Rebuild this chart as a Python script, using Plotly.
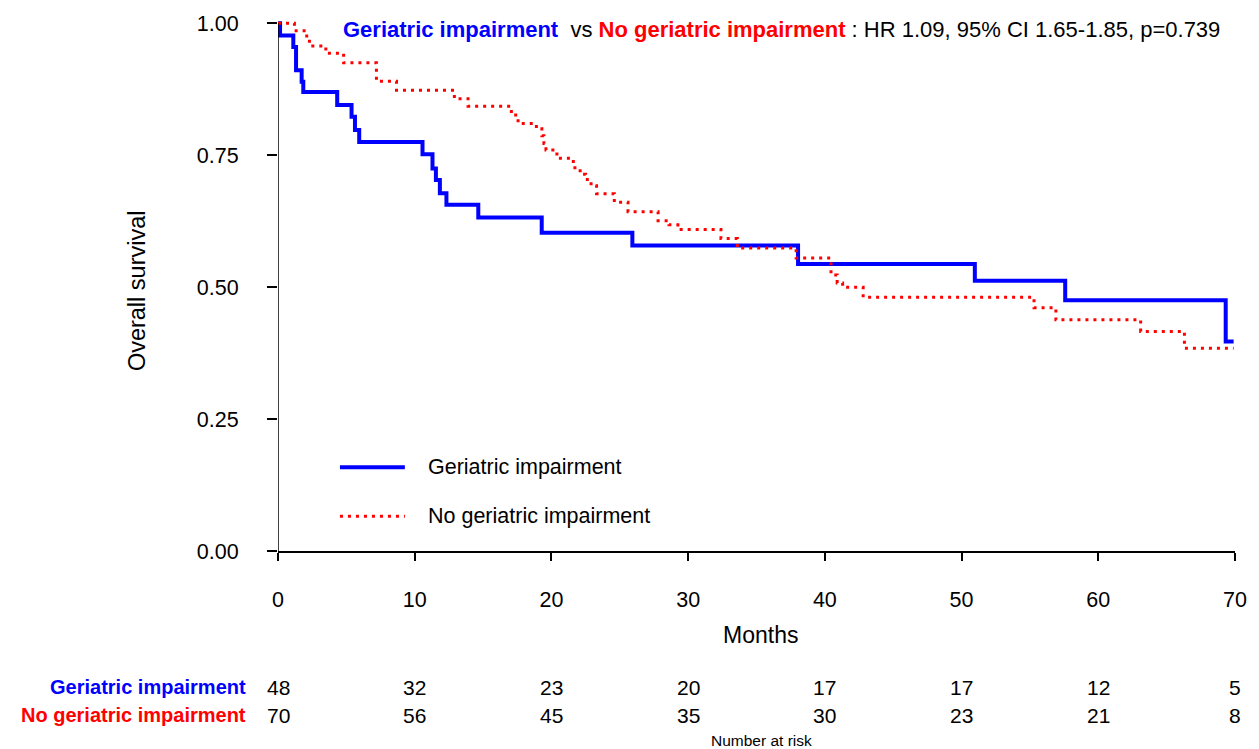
import plotly.graph_objects as go

# ---------------- data ----------------
gi_time = [0, 0.15, 1.12, 1.32, 1.73, 1.85, 4.33, 5.38, 5.63, 5.94, 10.57, 11.3, 11.55, 11.84,
           12.32, 14.65, 19.29, 25.92, 38.04, 50.97, 57.58, 69.32, 69.9]
gi_surv = [1.0, 0.977, 0.955, 0.911, 0.889, 0.870, 0.845, 0.823, 0.798, 0.775, 0.752, 0.725, 0.703, 0.678,
           0.656, 0.632, 0.603, 0.579, 0.544, 0.512, 0.475, 0.397, 0.397]

ngi_time = [0, 1.2, 2.1, 2.3, 3.5, 4.8, 7.2, 8.67, 12.9, 13.9, 17.07, 17.56, 18.9, 19.3, 19.45, 19.6,
            20.4, 21.6, 22.1, 22.5, 22.9, 23.3, 24.6, 25.6, 27.8, 28.6, 29.25, 32.4, 33.6, 37.9,
            40.45, 40.9, 41.3, 42.8, 55.3, 56.9, 63.1, 66.3, 69.9]
ngi_surv = [1.0, 0.986, 0.971, 0.957, 0.943, 0.925, 0.890, 0.873, 0.857, 0.843, 0.826, 0.810, 0.800, 0.787,
            0.772, 0.760, 0.744, 0.726, 0.714, 0.704, 0.692, 0.677, 0.661, 0.643, 0.626, 0.618, 0.609,
            0.592, 0.574, 0.555, 0.523, 0.508, 0.500, 0.481, 0.461, 0.438, 0.416, 0.384, 0.384]

risk_times = [0, 10, 20, 30, 40, 50, 60, 70]
risk_gi = [48, 32, 23, 20, 17, 17, 12, 5]
risk_ngi = [70, 56, 45, 35, 30, 23, 21, 8]

y_ticks = [0, 0.25, 0.5, 0.75, 1.0]
x_ticks = [0, 10, 20, 30, 40, 50, 60, 70]

BLUE = "#0000FF"
RED = "#FF0000"
FONT = "Arial, Liberation Sans, sans-serif"

# ---------------- layout geometry ----------------
W, H = 1259, 749
L, R, T, B = 278, 23, 16, 198
PW = W - L - R
PH = H - T - B


def px(xp):
    return (xp - L) / PW


def py(yp):
    return (H - B - yp) / PH


fig = go.Figure()
fig.add_trace(go.Scatter(x=gi_time, y=gi_surv, mode="lines", line=dict(color=BLUE, width=4, shape="hv"),
                         name="Geriatric impairment", showlegend=False))
fig.add_trace(go.Scatter(x=ngi_time, y=ngi_surv, mode="lines",
                         line=dict(color=RED, width=3, shape="hv", dash="3px,5px"),
                         name="No geriatric impairment", showlegend=False))

annotations = []
shapes = []

# y axis line
shapes.append(dict(type="line", xref="x", yref="y", x0=0, x1=0, y0=0, y1=1,
                   line=dict(color="black", width=1.5)))

# title
annotations.append(dict(
    xref="paper", yref="paper", x=px(341), y=py(28), xanchor="left", yanchor="middle", showarrow=False,
    text=("<b><span style='color:#0000FF'>Geriatric impairment</span></b>  vs "
          "<b><span style='color:#FF0000'>No geriatric impairment</span></b> : HR 1.09, 95% CI 1.65-1.85, p=0.739"),
    font=dict(family=FONT, size=22, color="black")))

# legend
for ypos, col, dash, w, label in [(467, BLUE, "solid", 4, "Geriatric impairment"),
                                  (516, RED, "3px,5px", 3, "No geriatric impairment")]:
    shapes.append(dict(type="line", xref="paper", yref="paper", x0=px(340), x1=px(405), y0=py(ypos), y1=py(ypos),
                       line=dict(color=col, width=w, dash=dash)))
    annotations.append(dict(xref="paper", yref="paper", x=px(426), y=py(ypos), xanchor="left", yanchor="middle",
                            showarrow=False, text=label, font=dict(family=FONT, size=21.5, color="black")))

# axis titles
annotations.append(dict(xref="paper", yref="paper", x=px(137), y=py(290), textangle=-90, showarrow=False,
                        xanchor="center", yanchor="middle", text="Overall survival",
                        font=dict(family=FONT, size=23.5, color="black")))
annotations.append(dict(xref="paper", yref="paper", x=px(761), y=py(635), showarrow=False,
                        xanchor="center", yanchor="middle", text="Months",
                        font=dict(family=FONT, size=23, color="black")))

# risk table
for yrow, col, label, vals in [(688, BLUE, "Geriatric impairment", risk_gi),
                               (716, RED, "No geriatric impairment", risk_ngi)]:
    annotations.append(dict(xref="paper", yref="paper", x=px(248), y=py(yrow), xanchor="right", yanchor="middle",
                            showarrow=False, text="<b>" + label + "</b>",
                            font=dict(family=FONT, size=20, color=col)))
    for t, v in zip(risk_times, vals):
        annotations.append(dict(xref="x", yref="paper", x=t, y=py(yrow), xanchor="center", yanchor="middle",
                                showarrow=False, text=str(v), font=dict(family=FONT, size=21, color="black")))
annotations.append(dict(xref="paper", yref="paper", x=px(762), y=py(741), xanchor="center", yanchor="middle",
                        showarrow=False, text="Number at risk", font=dict(family=FONT, size=15.5, color="black")))

fig.update_layout(
    width=W, height=H,
    margin=dict(l=L, r=R, t=T, b=B),
    paper_bgcolor="white", plot_bgcolor="white",
    annotations=annotations, shapes=shapes,
    showlegend=False,
    font=dict(family=FONT, color="black"),
)
fig.update_xaxes(range=[0, 70], tickvals=x_ticks, ticktext=[str(v) for v in x_ticks],
                 showline=True, linecolor="black", linewidth=1.5, ticks="outside", ticklen=8,
                 tickwidth=1.5, tickcolor="black", showgrid=False, zeroline=False,
                 tickfont=dict(family=FONT, size=21.5, color="black"), ticklabelstandoff=20)
fig.update_yaxes(range=[0, 1.01], tickvals=y_ticks, ticktext=["%.2f" % v for v in y_ticks],
                 showline=False, ticks="outside", ticklen=10, tickwidth=1.5, tickcolor="black",
                 showgrid=False, zeroline=False,
                 tickfont=dict(family=FONT, size=21.5, color="black"), ticklabelstandoff=24)

fig.write_html("out.html")
